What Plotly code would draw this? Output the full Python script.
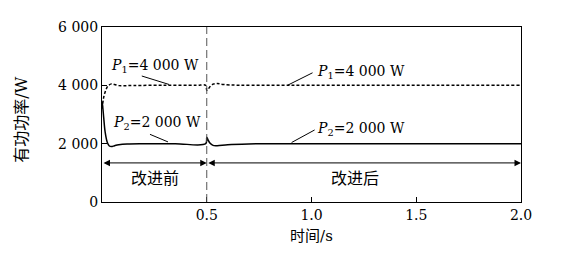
import plotly.graph_objects as go

# Data (time in s, power in W)
t_p1 = [0.0, 0.005, 0.01, 0.02, 0.03, 0.045, 0.06, 0.08, 0.1, 0.15, 0.3, 0.45, 0.495, 0.5, 0.505, 0.515, 0.53, 0.55, 0.58, 0.65, 0.8, 1.2, 1.6, 2.0]
p1 = [3200, 3450, 3650, 3870, 3990, 4050, 4030, 3990, 3985, 3995, 4000, 4000, 4000, 3830, 3850, 3950, 4040, 4060, 4030, 4005, 4000, 4000, 4000, 4000]

t_p2 = [0.0, 0.003, 0.008, 0.015, 0.025, 0.035, 0.045, 0.06, 0.08, 0.12, 0.2, 0.35, 0.495, 0.5, 0.505, 0.515, 0.53, 0.55, 0.6, 0.7, 0.9, 1.2, 1.6, 2.0]
p2 = [3450, 3300, 2900, 2400, 2050, 1920, 1900, 1930, 1960, 1985, 1995, 2000, 2000, 2220, 2150, 2020, 1940, 1930, 1965, 1990, 2000, 2000, 2000, 2000]

y_ticks = [0, 2000, 4000, 6000]
y_tick_labels = ["0", "2 000", "4 000", "6 000"]
x_ticks = [0.5, 1.0, 1.5, 2.0]
x_tick_labels = ["0.5", "1.0", "1.5", "2.0"]

FONT = "DejaVu Serif, Noto Sans CJK SC, serif"

fig = go.Figure()
fig.add_trace(go.Scatter(x=t_p1, y=p1, mode="lines", line=dict(color="black", width=1.5, dash="3px,2px"),
                         line_shape="spline", showlegend=False))
fig.add_trace(go.Scatter(x=t_p2, y=p2, mode="lines", line=dict(color="black", width=1.5),
                         line_shape="spline", showlegend=False))

fig.add_shape(type="line", x0=0.5, x1=0.5, y0=0, y1=6000, xref="x", yref="y",
              line=dict(color="#555", width=1, dash="8px,4px"))

ann = []
lab_p1 = "<i>P</i><sub>1</sub>=4 000 W"
lab_p2 = "<i>P</i><sub>2</sub>=2 000 W"
for x, y, txt in [(0.255, 4650, lab_p1), (1.236, 4470, lab_p1), (0.262, 2720, lab_p2), (1.236, 2510, lab_p2)]:
    ann.append(dict(x=x, y=y, xref="x", yref="y", text=txt, showarrow=False,
                    font=dict(family=FONT, size=14, color="black")))
for x0, y0, x1, y1 in [(0.19, 4320, 0.32, 4030), (1.005, 4430, 0.885, 4000),
                       (0.229, 2320, 0.315, 2060), (1.015, 2470, 0.905, 2040)]:
    fig.add_shape(type="line", x0=x0, y0=y0, x1=x1, y1=y1, xref="x", yref="y",
                  line=dict(color="black", width=1))
for xa, xb in [(0.0, 0.5), (0.5, 2.0)]:
    ann.append(dict(x=xb, y=1340, ax=xa, ay=1340, xref="x", yref="y", axref="x", ayref="y",
                    text="", showarrow=True, arrowhead=2, startarrowhead=2, arrowside="end+start",
                    arrowsize=1.3, startarrowsize=1.3, arrowwidth=1, arrowcolor="black",
                    standoff=0, startstandoff=0))
ann.append(dict(x=0.253, y=820, xref="x", yref="y", text="改进前", showarrow=False,
                font=dict(family=FONT, size=16, color="black")))
ann.append(dict(x=1.208, y=820, xref="x", yref="y", text="改进后", showarrow=False,
                font=dict(family=FONT, size=16, color="black")))
# y-axis title as annotation (paper coords relative to plot area)
ann.append(dict(x=-0.191, y=0.47, xref="paper", yref="paper", text="有功功率/W", textangle=-90,
                xanchor="center", yanchor="middle",
                showarrow=False, font=dict(family=FONT, size=16, color="black")))

fig.update_layout(
    width=571, height=273,
    margin=dict(l=102, r=50, t=27, b=71),
    paper_bgcolor="white", plot_bgcolor="white",
    font=dict(family=FONT, size=15, color="black"),
    annotations=ann,
    showlegend=False,
)
fig.update_xaxes(range=[0, 2.0], tickvals=x_ticks, ticktext=x_tick_labels, ticks="inside", ticklen=5,
                 tickcolor="black", showline=True, linecolor="black", linewidth=1, mirror=True,
                 showgrid=False, zeroline=False,
                 title=dict(text="时间/s", font=dict(family=FONT, size=15), standoff=8),
                 tickfont=dict(family=FONT, size=14))
fig.update_yaxes(range=[0, 6000], tickvals=y_ticks, ticktext=y_tick_labels, ticks="inside", ticklen=5,
                 tickcolor="black", showline=True, linecolor="black", linewidth=1, mirror=True,
                 showgrid=False, zeroline=False,
                 tickfont=dict(family=FONT, size=14))

fig.write_html("out.html")
